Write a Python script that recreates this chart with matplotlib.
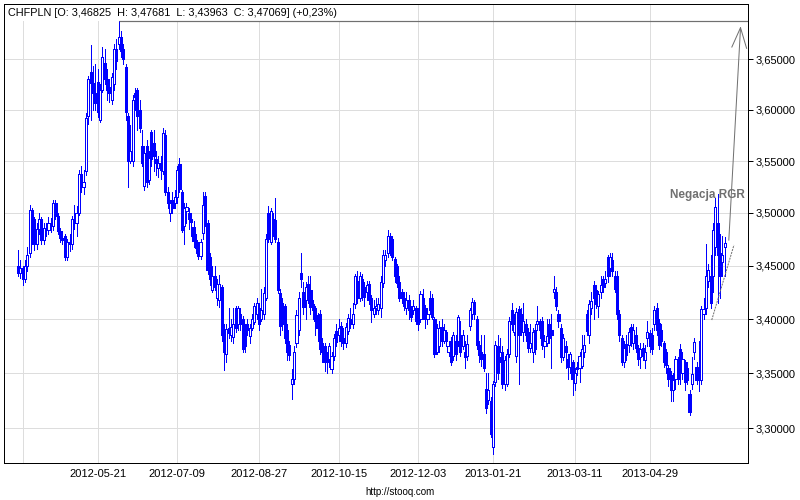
import numpy as np
import matplotlib.pyplot as plt
from matplotlib.patches import Rectangle
from matplotlib.ticker import FixedLocator, NullLocator

plt.rcParams['font.family'] = ['Liberation Sans', 'DejaVu Sans']

# daily CHFPLN candles, prices in 1/1000 PLN
opens = [3450, 3443, 3448, 3437, 3450, 3462, 3503, 3494, 3470, 3485, 3494, 3474, 3486, 3484, 3490, 3488, 3510, 3497, 3483, 3476,
         3478, 3458, 3472, 3470, 3494, 3490, 3500, 3537, 3525, 3540, 3594, 3637, 3626, 3617, 3627, 3590, 3620, 3646, 3630, 3623,
         3610, 3625, 3660, 3665, 3672, 3660, 3642, 3594, 3550, 3550, 3617,
         3620, 3600, 3565, 3526, 3565, 3532, 3578, 3568, 3552, 3543, 3548, 3540, 3575, 3520, 3500, 3512, 3510, 3515, 3547, 3520,
         3488, 3502, 3500, 3494, 3487, 3474, 3470, 3459, 3481, 3516, 3490, 3458, 3427, 3440, 3420, 3418, 3430, 3390, 3368, 3392,
         3385, 3383, 3410, 3395, 3405, 3400, 3390, 3395, 3384, 3392, 3397, 3405,
         3410, 3400, 3405, 3420, 3500, 3472, 3494, 3493, 3472, 3424, 3415, 3412, 3390, 3376, 3340, 3345, 3378, 3390, 3443, 3425,
         3418, 3433, 3427, 3414, 3410, 3404, 3405, 3378, 3375, 3366, 3363, 3354, 3366, 3389, 3385, 3394, 3382, 3378, 3389, 3400,
         3395, 3414, 3436, 3420, 3437, 3430, 3425, 3433, 3420, 3405, 3410,
         3408, 3410, 3434, 3455, 3462, 3478, 3475, 3456, 3450, 3435, 3425, 3420, 3410, 3418, 3410, 3408, 3410, 3405, 3400, 3420,
         3410, 3400, 3420, 3420, 3400, 3370, 3375, 3393, 3380, 3388, 3370, 3380, 3366, 3380, 3380, 3385, 3375, 3370, 3366, 3394,
         3405, 3416, 3400, 3376, 3370, 3368, 3336, 3326, 3325, 3283, 3342,
         3375, 3365, 3370, 3340, 3340, 3368, 3408, 3388, 3366, 3409, 3405, 3388, 3395, 3388, 3373, 3370, 3390, 3395, 3398, 3398,
         3375, 3378, 3395, 3390, 3425, 3425, 3405, 3392, 3365, 3375, 3363, 3356, 3360, 3341, 3356, 3355, 3357, 3370, 3405, 3385,
         3410, 3432, 3427, 3412, 3425, 3437, 3434, 3458, 3448, 3455, 3440,
         3440, 3405, 3382, 3360, 3377, 3376, 3393, 3378, 3385, 3373, 3365, 3373, 3362, 3382, 3387, 3385, 3395, 3410, 3396, 3390,
         3378, 3370, 3355, 3348, 3335, 3345, 3360, 3372, 3350, 3360, 3355, 3331, 3340, 3370, 3356, 3356, 3344, 3405, 3410, 3436,
         3440, 3440, 3468, 3490, 3462, 3453, 3468]
highs = [3465, 3455, 3450, 3455, 3468, 3508, 3505, 3496, 3490, 3500, 3496, 3490, 3490, 3496, 3495, 3512, 3512, 3500, 3486, 3483,
         3480, 3475, 3480, 3497, 3508, 3507, 3541, 3545, 3541, 3597, 3633, 3664, 3643, 3645, 3640, 3625, 3662, 3660, 3640, 3630,
         3636, 3665, 3670, 3688, 3678, 3665, 3645, 3597, 3585, 3615, 3622,
         3622, 3610, 3580, 3565, 3570, 3560, 3580, 3580, 3560, 3555, 3555, 3582, 3580, 3525, 3512, 3520, 3522, 3545, 3553, 3522,
         3510, 3510, 3505, 3500, 3492, 3480, 3472, 3475, 3520, 3520, 3493, 3462, 3450, 3450, 3437, 3441, 3432, 3395, 3395, 3410,
         3400, 3410, 3412, 3412, 3410, 3403, 3395, 3400, 3395, 3405, 3415, 3420,
         3415, 3428, 3430, 3480, 3507, 3505, 3500, 3514, 3476, 3428, 3420, 3414, 3395, 3380, 3354, 3375, 3408, 3425, 3462, 3435,
         3435, 3440, 3440, 3418, 3412, 3406, 3408, 3382, 3378, 3370, 3378, 3370, 3386, 3395, 3400, 3397, 3392, 3396, 3405, 3410,
         3415, 3442, 3445, 3444, 3442, 3435, 3436, 3436, 3422, 3418, 3420,
         3420, 3440, 3465, 3465, 3484, 3481, 3478, 3458, 3452, 3440, 3428, 3425, 3425, 3422, 3412, 3418, 3412, 3410, 3426, 3428,
         3413, 3410, 3426, 3423, 3402, 3395, 3398, 3400, 3395, 3390, 3380, 3383, 3388, 3385, 3404, 3398, 3390, 3380, 3385, 3410,
         3420, 3418, 3403, 3380, 3385, 3385, 3350, 3350, 3328, 3343, 3380,
         3385, 3382, 3375, 3366, 3372, 3402, 3415, 3405, 3410, 3412, 3410, 3415, 3400, 3392, 3395, 3392, 3395, 3412, 3400, 3402,
         3385, 3400, 3400, 3405, 3440, 3430, 3408, 3395, 3386, 3380, 3368, 3370, 3362, 3355, 3360, 3370, 3385, 3385, 3408, 3418,
         3425, 3436, 3432, 3426, 3440, 3440, 3445, 3460, 3462, 3462, 3445,
         3445, 3408, 3385, 3380, 3385, 3392, 3395, 3395, 3393, 3376, 3378, 3378, 3376, 3398, 3390, 3392, 3412, 3415, 3400, 3395,
         3380, 3372, 3358, 3352, 3350, 3366, 3365, 3377, 3370, 3362, 3360, 3335, 3365, 3382, 3360, 3380, 3412, 3420, 3470, 3452,
         3460, 3490, 3514, 3518, 3480, 3478, 3477]
lows = [3440, 3438, 3432, 3435, 3445, 3458, 3470, 3465, 3466, 3480, 3470, 3470, 3478, 3480, 3482, 3484, 3494, 3480, 3472, 3470,
        3455, 3455, 3464, 3466, 3485, 3478, 3498, 3520, 3518, 3536, 3586, 3590, 3600, 3600, 3593, 3588, 3618, 3625, 3610, 3608,
        3606, 3620, 3640, 3660, 3652, 3645, 3590, 3525, 3548, 3545, 3600,
        3580, 3578, 3545, 3522, 3525, 3528, 3545, 3540, 3536, 3535, 3533, 3537, 3517, 3505, 3492, 3500, 3505, 3510, 3520, 3482,
        3470, 3490, 3485, 3478, 3468, 3462, 3456, 3456, 3475, 3488, 3442, 3432, 3425, 3427, 3413, 3411, 3380, 3353, 3360, 3382,
        3380, 3378, 3388, 3390, 3390, 3370, 3370, 3385, 3378, 3390, 3395, 3400,
        3390, 3398, 3400, 3418, 3472, 3470, 3478, 3472, 3424, 3385, 3390, 3378, 3362, 3362, 3327, 3340, 3374, 3385, 3430, 3405,
        3400, 3415, 3405, 3400, 3385, 3380, 3368, 3360, 3352, 3350, 3356, 3350, 3362, 3375, 3380, 3375, 3372, 3374, 3386, 3392,
        3392, 3410, 3415, 3417, 3418, 3412, 3418, 3414, 3397, 3402, 3405,
        3405, 3402, 3430, 3450, 3458, 3460, 3455, 3435, 3430, 3417, 3415, 3408, 3405, 3400, 3398, 3405, 3395, 3390, 3397, 3400,
        3392, 3395, 3405, 3400, 3365, 3368, 3370, 3375, 3378, 3375, 3366, 3358, 3362, 3362, 3375, 3366, 3372, 3355, 3362, 3390,
        3400, 3400, 3372, 3360, 3357, 3352, 3314, 3322, 3292, 3277, 3338,
        3345, 3360, 3337, 3335, 3338, 3365, 3390, 3385, 3360, 3340, 3385, 3380, 3380, 3370, 3370, 3360, 3368, 3390, 3382, 3372,
        3365, 3375, 3378, 3355, 3420, 3408, 3393, 3360, 3362, 3355, 3345, 3350, 3330, 3335, 3348, 3342, 3355, 3365, 3385, 3378,
        3405, 3400, 3410, 3402, 3420, 3425, 3430, 3435, 3440, 3440, 3425,
        3400, 3380, 3358, 3356, 3362, 3370, 3375, 3372, 3370, 3358, 3355, 3362, 3355, 3375, 3370, 3368, 3390, 3385, 3372, 3375,
        3356, 3350, 3338, 3325, 3325, 3336, 3340, 3340, 3345, 3335, 3340, 3312, 3336, 3363, 3340, 3334, 3340, 3400, 3405, 3430,
        3410, 3425, 3460, 3415, 3420, 3440, 3440]
closes = [3443, 3448, 3437, 3450, 3460, 3503, 3494, 3470, 3485, 3494, 3474, 3486, 3484, 3490, 3488, 3510, 3497, 3483, 3476, 3474,
          3458, 3472, 3470, 3494, 3490, 3500, 3537, 3525, 3530, 3592, 3630, 3626, 3617, 3607, 3598, 3620, 3652, 3630, 3620, 3617,
          3632, 3660, 3648, 3672, 3658, 3650, 3598, 3550, 3560, 3610, 3613,
          3594, 3582, 3548, 3558, 3530, 3553, 3552, 3555, 3548, 3548, 3541, 3577, 3520, 3510, 3510, 3505, 3515, 3541, 3523, 3484,
          3505, 3506, 3494, 3491, 3473, 3467, 3459, 3472, 3508, 3491, 3446, 3437, 3440, 3430, 3433, 3433, 3385, 3370, 3391, 3387,
          3393, 3395, 3392, 3410, 3395, 3372, 3375, 3390, 3392, 3400, 3412, 3415,
          3395, 3408, 3424, 3475, 3475, 3502, 3485, 3475, 3427, 3394, 3395, 3382, 3370, 3367, 3345, 3370, 3404, 3420, 3437, 3411,
          3430, 3420, 3411, 3408, 3398, 3392, 3372, 3370, 3360, 3360, 3375, 3366, 3382, 3379, 3392, 3380, 3378, 3393, 3401, 3395,
          3405, 3440, 3420, 3440, 3421, 3421, 3432, 3418, 3408, 3410, 3412,
          3414, 3435, 3460, 3460, 3478, 3465, 3458, 3440, 3434, 3420, 3420, 3412, 3418, 3408, 3402, 3412, 3398, 3395, 3423, 3405,
          3400, 3405, 3408, 3402, 3368, 3392, 3392, 3380, 3390, 3380, 3375, 3360, 3385, 3368, 3402, 3370, 3385, 3365, 3377, 3408,
          3416, 3405, 3376, 3367, 3363, 3355, 3318, 3335, 3295, 3340, 3376,
          3350, 3370, 3340, 3362, 3368, 3398, 3395, 3395, 3407, 3385, 3392, 3398, 3385, 3373, 3378, 3388, 3372, 3398, 3390, 3376,
          3380, 3384, 3382, 3385, 3428, 3412, 3398, 3365, 3382, 3370, 3356, 3368, 3345, 3350, 3354, 3366, 3372, 3376, 3389, 3414,
          3417, 3420, 3414, 3423, 3432, 3430, 3437, 3440, 3458, 3445, 3428,
          3405, 3385, 3360, 3373, 3367, 3388, 3380, 3390, 3373, 3363, 3372, 3366, 3370, 3388, 3375, 3372, 3408, 3390, 3376, 3380,
          3360, 3358, 3345, 3335, 3344, 3363, 3345, 3350, 3363, 3342, 3344, 3315, 3349, 3379, 3344, 3344, 3409, 3409, 3440, 3446,
          3415, 3484, 3506, 3460, 3440, 3460, 3471]

# date labels sit on these candle numbers
tick_pos = [2, 34, 68, 103, 137, 171, 203, 238, 270]
tick_labels = ['', '2012-05-21', '2012-07-09', '2012-08-27', '2012-10-15',
               '2012-12-03', '2013-01-21', '2013-03-11', '2013-04-29']
price_ticks = [3.30, 3.35, 3.40, 3.45, 3.50, 3.55, 3.60, 3.65]

# "Negacja RGR" drawing (candle number, price)
arrow_x = [303.8, 308.8]
arrow_y = [3.4742, 3.6817]
head_x = [305.1, 308.8, 311.4]
head_y = [3.6623, 3.6817, 3.6610]
neck_x = [296.5, 306.0]
neck_y = [3.3991, 3.4695]

o = np.array(opens) / 1000
h = np.array(highs) / 1000
l = np.array(lows) / 1000
c = np.array(closes) / 1000
x = np.arange(len(c))

blue = '#0000ff'
grey = '#707070'
px = 0.72  # one pixel in points

fig = plt.figure(figsize=(8, 5), dpi=100)
ax = fig.add_axes([4 / 800, 37 / 500, 744 / 800, 459 / 500])
ax.set_yscale('log')
ax.set_xlim(-6, 312)
ax.set_ylim(3.2689, 3.7056)

ax.set_axisbelow(True)
ax.grid(True, color='#dddddd', lw=px)

# wicks, then bodies (hollow = up day, filled = down day)
ax.vlines(x, np.minimum(l, np.minimum(o, c)), np.maximum(h, np.maximum(o, c)),
          color=blue, lw=px, zorder=3, antialiased=False)
for i in x:
    lo_b, hi_b = min(o[i], c[i]), max(o[i], c[i])
    up = c[i] >= o[i]
    ax.add_patch(Rectangle((i - 0.45, lo_b), 0.9, max(hi_b - lo_b, 0.0004),
                           facecolor='white' if up else blue, edgecolor=blue,
                           lw=px, zorder=3.5, antialiased=False))

# max line
imax = int(np.argmax(h))
ax.hlines(h.max(), imax, 312, color=grey, lw=px * 1.2, zorder=4)

# pattern
ax.plot(arrow_x, arrow_y, color=grey, lw=px, zorder=4)
ax.plot(head_x, head_y, color=grey, lw=px, zorder=4)
ax.plot(neck_x, neck_y, color=grey, lw=px, ls=(0, (2, 1)), zorder=4)
ax.text(0.996, 0.584, 'Negacja RGR', transform=ax.transAxes, ha='right', va='center',
        fontsize=8.5, fontweight='bold', color=grey, zorder=5)

# header band + title
ax.add_patch(Rectangle((0, 0.963), 0.478, 0.037, transform=ax.transAxes,
                       facecolor='white', edgecolor='none', zorder=2))
ax.text(4 / 744, 1 - 9.5 / 459, 'CHFPLN [O: 3,46825  H: 3,47681  L: 3,43963  C: 3,47069] (+0,23%)',
        transform=ax.transAxes, ha='left', va='center', fontsize=7.8, color='black', zorder=5)

ax.yaxis.tick_right()
ax.yaxis.set_major_locator(FixedLocator(price_ticks))
ax.yaxis.set_minor_locator(NullLocator())
ax.set_yticklabels([f'{v:.5f}'.replace('.', ',') for v in price_ticks])
ax.tick_params(axis='y', direction='out', length=3.5, width=px, pad=2, labelsize=8)

ax.set_xticks(tick_pos)
ax.set_xticklabels(tick_labels)
ax.xaxis.set_minor_locator(NullLocator())
ax.tick_params(axis='x', length=0, pad=4, labelsize=8)

for s in ax.spines.values():
    s.set_linewidth(px)
    s.set_color('black')

fig.text(0.5, 1 - 492 / 500, 'http://stooq.com', ha='center', va='center', fontsize=7)

fig.savefig('out.png', dpi=100)
